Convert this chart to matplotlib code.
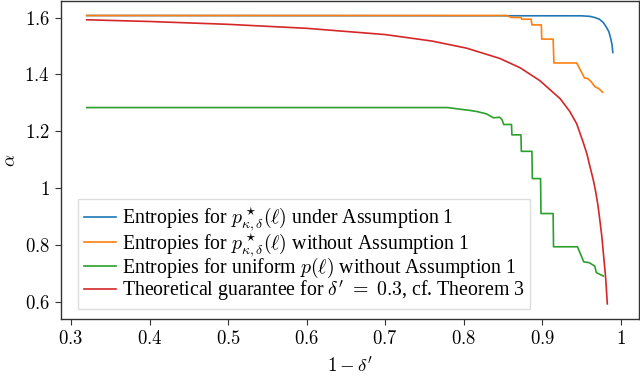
import matplotlib
matplotlib.use('Agg')
import matplotlib.pyplot as plt

# values
blue_x = [0.32, 0.95, 0.961, 0.967, 0.973, 0.978, 0.982, 0.985, 0.987, 0.989, 0.990]
blue_y = [1.607, 1.606, 1.604, 1.600, 1.594, 1.582, 1.565, 1.550, 1.530, 1.505, 1.477]

orange_x = [0.32, 0.855, 0.861, 0.873, 0.874, 0.886, 0.887, 0.899, 0.8995, 0.914, 0.915,
            0.944, 0.954, 0.958, 0.961, 0.963, 0.967, 0.972, 0.977]
orange_y = [1.607, 1.607, 1.600, 1.600, 1.594, 1.594, 1.574, 1.574, 1.524, 1.524, 1.440,
            1.440, 1.387, 1.385, 1.378, 1.372, 1.357, 1.350, 1.337]

green_x = [0.32, 0.78, 0.796, 0.808, 0.817, 0.829, 0.838, 0.846, 0.849,
           0.851, 0.861, 0.8615, 0.873, 0.8735, 0.887, 0.8875, 0.898, 0.8985, 0.914, 0.9145,
           0.945, 0.953, 0.960, 0.967, 0.969, 0.978]
green_y = [1.283, 1.283, 1.277, 1.273, 1.269, 1.261, 1.247, 1.249, 1.240,
           1.2235, 1.2235, 1.187, 1.187, 1.129, 1.129, 1.033, 1.033, 0.910, 0.910, 0.793,
           0.793, 0.740, 0.737, 0.725, 0.702, 0.690]

red_x = [0.32, 0.4, 0.5, 0.6, 0.7, 0.76, 0.804, 0.846, 0.872, 0.897, 0.923, 0.935, 0.944,
         0.952, 0.957, 0.961, 0.965, 0.968, 0.971, 0.973, 0.976, 0.978, 0.981, 0.983]
red_y = [1.592, 1.586, 1.576, 1.562, 1.540, 1.517, 1.492, 1.456, 1.423, 1.378, 1.314, 1.270,
         1.226, 1.163, 1.120, 1.074, 1.030, 0.990, 0.940, 0.898, 0.830, 0.770, 0.680, 0.592]

labels = [r'Entropies for $p^\star_{\kappa,\delta}(\ell)$ under Assumption 1',
          r'Entropies for $p^\star_{\kappa,\delta}(\ell)$ without Assumption 1',
          r'Entropies for uniform $p(\ell)$ without Assumption 1',
          r"Theoretical guarantee for $\delta'\;=\;0.3$, cf. Theorem 3"]

xticks = [0.3, 0.4, 0.5, 0.6, 0.7, 0.8, 0.9, 1.0]
xticklabels = ['$0.3$', '$0.4$', '$0.5$', '$0.6$', '$0.7$', '$0.8$', '$0.9$', '$1$']
yticks = [0.6, 0.8, 1.0, 1.2, 1.4, 1.6]
yticklabels = ['$0.6$', '$0.8$', '$1$', '$1.2$', '$1.4$', '$1.6$']

plt.rcParams['font.family'] = ['Liberation Serif', 'DejaVu Serif']
plt.rcParams['mathtext.fontset'] = 'cm'

fig = plt.figure(figsize=(6.4, 3.76), dpi=100)
ax = fig.add_axes([0.095, 0.151, 0.903, 0.847])

lw = 1.2
ax.plot(blue_x, blue_y, color='#1f77b4', lw=lw, label=labels[0])
ax.plot(orange_x, orange_y, color='#ff7f0e', lw=lw, label=labels[1])
ax.plot(green_x, green_y, color='#2ca02c', lw=lw, label=labels[2])
ax.plot(red_x, red_y, color='#d62728', lw=lw, label=labels[3])

ax.set_xlim(0.287, 1.023)
ax.set_ylim(0.538, 1.659)
ax.set_xticks(xticks)
ax.set_xticklabels(xticklabels, fontsize=13.5)
ax.set_yticks(yticks)
ax.set_yticklabels(yticklabels, fontsize=13.5)
ax.tick_params(direction='out', length=4, width=0.8, color='#333333', pad=4)
for s in ax.spines.values():
    s.set_linewidth(1.0)
    s.set_color('#333333')

ax.set_xlabel(r"$1-\delta'$", fontsize=13.5, labelpad=6)
ax.set_ylabel(r'$\alpha$', fontsize=13.5)
ax.yaxis.set_label_coords(-0.072, 0.5)

leg = ax.legend(loc='lower left', bbox_to_anchor=(0.03, 0.032), borderaxespad=0,
                fontsize=14.3, handlelength=1.6, handletextpad=0.3, labelspacing=-0.12,
                borderpad=0.3, fancybox=False, framealpha=1, edgecolor='#dddddd')

fig.savefig('out.png', dpi=100)
